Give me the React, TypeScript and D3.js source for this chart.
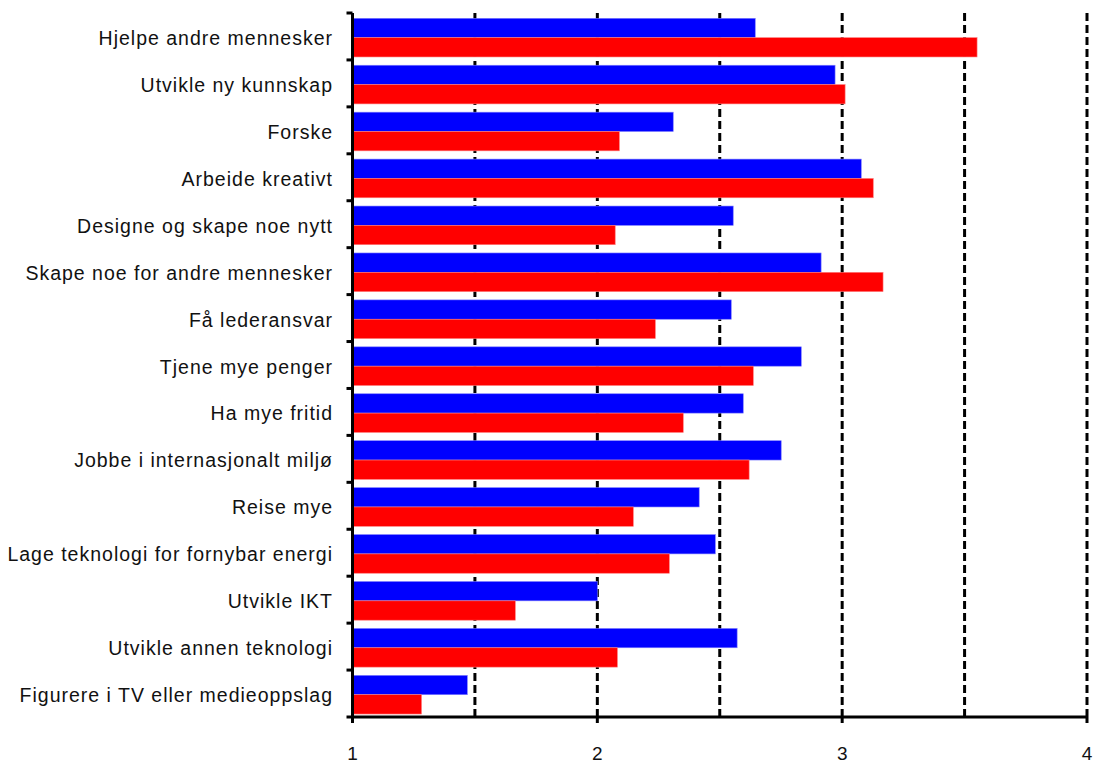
import React, { useEffect, useRef } from "react";
import * as d3 from "d3";

const categories = [
  "Hjelpe andre mennesker",
  "Utvikle ny kunnskap",
  "Forske",
  "Arbeide kreativt",
  "Designe og skape noe nytt",
  "Skape noe for andre mennesker",
  "Få lederansvar",
  "Tjene mye penger",
  "Ha mye fritid",
  "Jobbe i internasjonalt miljø",
  "Reise mye",
  "Lage teknologi for fornybar energi",
  "Utvikle IKT",
  "Utvikle annen teknologi",
  "Figurere i TV eller medieoppslag",
];
const blueValues = [2.645, 2.971, 2.31, 3.078, 2.555, 2.914, 2.547, 2.833, 2.596, 2.751, 2.416, 2.482, 2.0, 2.571, 1.469];
const redValues = [3.551, 3.012, 2.09, 3.127, 2.073, 3.167, 2.237, 2.637, 2.351, 2.62, 2.147, 2.294, 1.665, 2.082, 1.282];
const xTicks = [1, 2, 3, 4];
const gridTicks = [1.5, 2, 2.5, 3, 3.5, 4];

const W = 1094;
const H = 765;
const left = 352.5;
const right = 1087;
const top = 13;
const bottom = 717;

export default function App() {
  const ref = useRef<SVGSVGElement>(null);
  useEffect(() => {
    const svg = d3.select(ref.current);
    svg.selectAll("*").remove();
    const x = d3.scaleLinear().domain([1, 4]).range([left, right]);
    const y = d3.scaleBand<string>().domain(categories).range([top, bottom]).paddingInner(0).paddingOuter(0);
    const bw = y.bandwidth();
    const barH = bw * 0.412;
    const offTop = bw * 0.113;

    // gridlines
    svg
      .append("g")
      .selectAll("line")
      .data(gridTicks)
      .join("line")
      .attr("x1", (d) => x(d))
      .attr("x2", (d) => x(d))
      .attr("y1", top)
      .attr("y2", bottom)
      .attr("stroke", "#000")
      .attr("stroke-width", 3)
      .attr("stroke-dasharray", "8,4");

    const g = svg.append("g");
    g.selectAll("rect.blue")
      .data(categories)
      .join("rect")
      .attr("class", "blue")
      .attr("x", x(1))
      .attr("y", (d) => (y(d) as number) + offTop)
      .attr("width", (d, i) => x(blueValues[i]) - x(1))
      .attr("height", barH)
      .attr("fill", "#0000ff")
      .attr("stroke", "#7f7fff")
      .attr("stroke-width", 0.6);
    g.selectAll("rect.red")
      .data(categories)
      .join("rect")
      .attr("class", "red")
      .attr("x", x(1))
      .attr("y", (d) => (y(d) as number) + offTop + barH)
      .attr("width", (d, i) => x(redValues[i]) - x(1))
      .attr("height", barH)
      .attr("fill", "#ff0000")
      .attr("stroke", "#ff7f7f")
      .attr("stroke-width", 0.6);

    // left axis
    svg
      .append("line")
      .attr("x1", left)
      .attr("x2", left)
      .attr("y1", top)
      .attr("y2", bottom)
      .attr("stroke", "#000")
      .attr("stroke-width", 3);
    const bounds = categories.map((c) => y(c) as number).concat([bottom]);
    svg
      .append("g")
      .selectAll("line")
      .data(bounds)
      .join("line")
      .attr("x1", left - 6)
      .attr("x2", left)
      .attr("y1", (d) => d)
      .attr("y2", (d) => d)
      .attr("stroke", "#000")
      .attr("stroke-width", 3);

    // bottom axis
    svg
      .append("line")
      .attr("x1", left - 1.5)
      .attr("x2", right + 1)
      .attr("y1", bottom)
      .attr("y2", bottom)
      .attr("stroke", "#000")
      .attr("stroke-width", 3);
    svg
      .append("g")
      .selectAll("line")
      .data(xTicks)
      .join("line")
      .attr("x1", (d) => x(d))
      .attr("x2", (d) => x(d))
      .attr("y1", bottom)
      .attr("y2", bottom + 6)
      .attr("stroke", "#000")
      .attr("stroke-width", 3);
    svg
      .append("g")
      .selectAll("text")
      .data(xTicks)
      .join("text")
      .attr("x", (d) => x(d))
      .attr("y", 759.5)
      .attr("text-anchor", "middle")
      .attr("font-family", "Arial, 'Liberation Sans', sans-serif")
      .attr("font-size", 19)
      .attr("fill", "#111")
      .text((d) => String(d));

    // category labels
    svg
      .append("g")
      .selectAll("text")
      .data(categories)
      .join("text")
      .attr("x", 333)
      .attr("y", (d) => (y(d) as number) + bw / 2 + 8.5)
      .attr("text-anchor", "end")
      .attr("font-family", "Arial, 'Liberation Sans', sans-serif")
      .attr("font-size", 19.5)
      .attr("letter-spacing", 1.0)
      .attr("fill", "#111")
      .text((d) => d);
  }, []);
  return (
    <svg
      ref={ref}
      width={W}
      height={H}
      style={{ position: "absolute", left: 0, top: 0, background: "#fff" }}
    />
  );
}
